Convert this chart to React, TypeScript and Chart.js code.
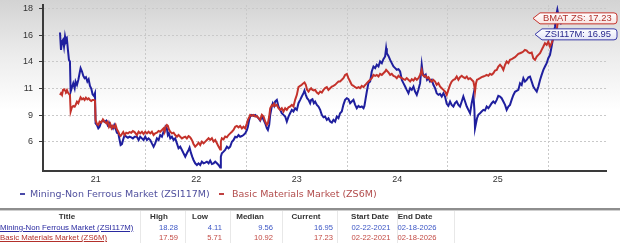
import React, { useEffect, useRef } from 'react';
import { Chart, registerables } from 'chart.js';

Chart.register(...registerables);

// decimal years (Feb 22 2021 .. Feb 18 2026)
const dates: number[] = [
  2021.145, 2021.155, 2021.165, 2021.175, 2021.185, 2021.195, 2021.204, 2021.214, 2021.224, 2021.234,
  2021.244, 2021.251, 2021.264, 2021.277, 2021.291, 2021.300, 2021.314, 2021.327, 2021.340, 2021.350,
  2021.364, 2021.377, 2021.390, 2021.403, 2021.417, 2021.430, 2021.443, 2021.456, 2021.469, 2021.483,
  2021.493, 2021.499, 2021.513, 2021.526, 2021.539, 2021.556, 2021.572, 2021.589, 2021.605, 2021.619,
  2021.632, 2021.645, 2021.658, 2021.672, 2021.685, 2021.698, 2021.711, 2021.725, 2021.738, 2021.748,
  2021.761, 2021.774, 2021.788, 2021.804, 2021.821, 2021.837, 2021.854, 2021.870, 2021.887,
  2021.910, 2021.927, 2021.943, 2021.960, 2021.976, 2021.993, 2022.010, 2022.026, 2022.043, 2022.059,
  2022.076, 2022.092, 2022.109, 2022.126, 2022.142, 2022.159, 2022.175, 2022.185, 2022.195, 2022.208,
  2022.218, 2022.228, 2022.242, 2022.258, 2022.275, 2022.291, 2022.308, 2022.324, 2022.341, 2022.358,
  2022.374, 2022.391, 2022.407, 2022.424, 2022.434, 2022.447, 2022.460, 2022.473, 2022.490, 2022.507,
  2022.523, 2022.540, 2022.556, 2022.573, 2022.590, 2022.606, 2022.623, 2022.639, 2022.656, 2022.673,
  2022.689, 2022.706, 2022.722, 2022.739, 2022.745, 2022.755, 2022.772, 2022.788, 2022.805, 2022.821,
  2022.838, 2022.855, 2022.871, 2022.888, 2022.904, 2022.921, 2022.937, 2022.954, 2022.970, 2022.987,
  2023.004, 2023.014, 2023.027, 2023.037, 2023.053, 2023.070, 2023.087, 2023.103, 2023.120, 2023.136,
  2023.153, 2023.170, 2023.186, 2023.203, 2023.213, 2023.226, 2023.236, 2023.252, 2023.262, 2023.275,
  2023.285, 2023.302, 2023.318, 2023.335, 2023.351, 2023.368, 2023.385, 2023.401, 2023.418, 2023.434,
  2023.451, 2023.467, 2023.484, 2023.501, 2023.517, 2023.534, 2023.550, 2023.567, 2023.577, 2023.590,
  2023.603, 2023.617, 2023.633, 2023.643, 2023.656, 2023.670, 2023.683, 2023.700, 2023.716, 2023.733,
  2023.749, 2023.766,
  2023.782, 2023.799, 2023.815, 2023.832, 2023.849, 2023.865, 2023.882, 2023.898, 2023.915, 2023.931,
  2023.948, 2023.964, 2023.981, 2023.998, 2024.014, 2024.031, 2024.047, 2024.064, 2024.081, 2024.097,
  2024.114, 2024.130, 2024.147, 2024.164, 2024.173, 2024.183, 2024.197, 2024.213, 2024.230, 2024.246,
  2024.263, 2024.280, 2024.296, 2024.313, 2024.329, 2024.346, 2024.362, 2024.379, 2024.389, 2024.396,
  2024.412, 2024.429, 2024.445, 2024.462, 2024.479, 2024.495, 2024.512, 2024.528, 2024.545, 2024.561,
  2024.578, 2024.594, 2024.611, 2024.628, 2024.644, 2024.661, 2024.677, 2024.694, 2024.710,
  2024.727, 2024.743, 2024.753, 2024.770, 2024.783, 2024.796, 2024.810, 2024.826, 2024.843, 2024.859,
  2024.876, 2024.892, 2024.909, 2024.925, 2024.942, 2024.959, 2024.975, 2024.992, 2025.008, 2025.025,
  2025.041, 2025.058, 2025.074, 2025.091, 2025.108, 2025.124, 2025.141, 2025.157, 2025.174, 2025.191,
  2025.207, 2025.224, 2025.240, 2025.257, 2025.267, 2025.273, 2025.283, 2025.293, 2025.306, 2025.323,
  2025.339, 2025.356, 2025.372, 2025.389, 2025.406, 2025.422, 2025.439, 2025.455, 2025.472, 2025.489,
  2025.505, 2025.522, 2025.538, 2025.555, 2025.572, 2025.588, 2025.605, 2025.621, 2025.638, 2025.654,
  2025.671,
  2025.704, 2025.721, 2025.737, 2025.754, 2025.770, 2025.787, 2025.804, 2025.820, 2025.837, 2025.853,
  2025.870, 2025.887, 2025.903, 2025.920, 2025.936, 2025.953, 2025.969, 2025.986, 2026.002, 2026.019,
  2026.035, 2026.052, 2026.069, 2026.085, 2026.092, 2026.110, 2026.131,
];

const miningValues: number[] = [
  16.23, 14.67, 15.42, 15.57, 14.97, 15.87, 15.42, 15.63, 14.67, 13.77,
  13.62, 10.92, 11.31, 11.67, 11.22, 11.82, 11.52, 11.97, 12.57, 13.02,
  12.72, 12.33, 12.12, 12.21, 11.82, 12.03, 11.43, 11.19, 10.68, 10.53,
  10.77, 8.07, 7.92, 7.62, 7.77, 8.22, 8.31, 8.19, 8.31, 7.92,
  8.13, 7.77, 7.84, 7.62, 7.92, 7.62, 7.23, 7.17, 6.57, 6.12,
  6.21, 6.63, 7.02, 6.87, 6.78, 6.87, 6.81, 6.72, 6.87,
  6.87, 6.57, 6.87, 6.72, 6.57, 6.87, 6.57, 6.72, 6.57, 6.27,
  5.97, 6.27, 6.72, 6.57, 7.02, 6.87, 7.32, 7.32, 7.77, 7.62,
  7.02, 7.17, 6.72, 6.87, 6.57, 6.72, 6.27, 5.83, 5.97, 5.68,
  5.38, 5.08, 5.38, 5.68, 5.89, 5.44, 5.08, 4.78, 4.48, 4.33,
  4.48, 4.33, 4.63, 4.48, 4.54, 4.63, 4.48, 4.72, 4.42, 4.48,
  4.63, 4.48, 4.33, 4.11, 5.08, 5.38, 5.53, 5.68, 5.98, 5.83,
  5.98, 6.42, 6.57, 6.87, 6.81, 7.02, 6.87, 6.93, 7.02, 7.17,
  7.47, 7.77, 8.38, 8.68, 8.83, 8.74, 8.83, 8.68, 8.53, 8.32,
  8.68, 8.38, 8.08, 7.63, 7.48, 7.93, 8.83, 9.58, 9.88, 9.64,
  10.03, 10.18, 9.58, 9.28, 8.98, 8.83, 8.68, 8.23, 8.68, 8.98,
  9.28, 9.13, 9.43, 9.28, 9.88, 10.18, 10.48, 10.78, 11.02, 10.63,
  10.33, 10.18, 9.88, 10.18, 10.24, 9.88, 10.03, 9.73, 9.58, 9.28,
  8.83, 8.62,
  8.68, 8.38, 8.53, 8.23, 8.14, 8.38, 8.23, 8.68, 8.53, 8.98,
  9.13, 9.73, 10.18, 10.33, 10.24, 9.88, 10.03, 10.18, 9.73, 9.43,
  9.64, 9.52, 9.58, 9.43, 9.64, 10.18, 10.93, 11.68, 11.83, 12.73,
  13.18, 13.03, 13.33, 13.18, 13.63, 13.48, 13.84, 14.08, 14.82, 14.37,
  14.13, 13.77, 13.48, 13.18, 13.03, 12.88, 12.94, 12.73, 11.98, 11.68,
  11.38, 11.08, 10.78, 11.23, 11.08, 11.38, 10.93, 10.63, 11.08,
  11.68, 13.33, 12.58, 12.28, 12.43, 11.98, 12.13, 11.83, 11.98, 11.53,
  11.23, 10.78, 10.63, 10.72, 10.48, 10.78, 10.48, 9.82, 9.64, 10.03,
  9.73, 9.58, 9.88, 10.03, 9.73, 9.58, 10.03, 10.48, 10.03, 9.58,
  9.28, 8.98, 9.88, 10.63, 9.28, 7.63, 8.08, 8.53, 8.83, 8.98,
  9.13, 9.28, 9.22, 9.58, 9.43, 9.64, 9.88, 10.03, 9.88, 10.18,
  10.54, 10.48, 10.33, 10.03, 9.73, 9.28, 9.58, 9.73, 10.2, 10.6,
  10.9,
  11.07, 11.67, 11.52, 12.12, 11.82, 11.97, 12.21, 12.27, 11.82, 11.37,
  11.13, 10.92, 11.37, 11.97, 12.42, 12.87, 13.17, 13.47, 13.92, 14.22,
  14.97, 15.87, 16.77, 17.97, 18.28, 17.4, 16.95,
];

const basicValues: number[] = [
  10.62, 10.77, 10.62, 11.07, 11.13, 11.01, 10.92, 11.07, 10.83, 10.71,
  10.62, 9.12, 9.51, 9.63, 9.57, 9.72, 10.02, 9.87, 10.17, 10.41,
  10.23, 10.32, 10.17, 10.38, 10.23, 10.32, 10.17, 10.08, 10.17, 10.17,
  10.11, 8.37, 8.01, 7.92, 8.22, 8.13, 8.43, 8.22, 8.07, 8.22,
  7.77, 8.01, 7.62, 7.84, 7.69, 7.92, 7.53, 7.32, 7.02, 6.93,
  7.11, 7.29, 7.02, 7.23, 7.17, 7.29, 7.23, 7.38, 7.29,
  7.02, 7.32, 7.17, 7.32, 7.11, 7.32, 7.17, 7.32, 7.17, 7.32,
  7.02, 7.17, 7.23, 7.38, 7.32, 7.47, 7.62, 7.32, 7.77, 7.92,
  7.84, 7.53, 7.32, 7.17, 7.23, 7.02, 6.87, 7.02, 6.87, 6.72,
  6.81, 6.87, 6.72, 6.93, 6.87, 6.72, 6.52, 6.22, 5.98, 6.13,
  6.34, 6.13, 6.43, 6.28, 6.43, 6.58, 6.73, 6.58, 6.73, 6.43,
  6.58, 6.28, 5.98, 5.71, 6.43, 6.73, 6.64, 6.88, 6.82, 7.02,
  7.17, 7.32, 7.47, 7.77, 7.83, 7.71, 7.83, 7.62, 7.77, 7.62,
  8.07, 8.38, 8.62, 8.83, 8.74, 8.83, 8.68, 8.74, 8.53, 8.38,
  8.83, 8.68, 8.23, 7.93, 8.08, 8.68, 9.43, 9.70, 9.64, 9.82,
  9.64, 9.73, 9.43, 9.28, 9.43, 9.13, 9.43, 9.28, 9.52, 9.58,
  9.73, 9.58, 10.18, 10.63, 11.32, 11.44, 11.53, 11.68, 11.74, 11.53,
  11.08, 10.93, 11.14, 11.23, 11.08, 11.02, 11.08, 10.84, 10.72, 10.93,
  10.84, 11.08,
  11.23, 11.32, 11.08, 11.23, 11.38, 11.44, 11.53, 11.68, 11.83, 11.83,
  11.98, 12.13, 12.42, 12.51, 12.13, 11.83, 11.53, 11.44, 11.32, 11.23,
  11.32, 11.23, 11.44, 11.32, 11.44, 11.53, 11.68, 11.83, 11.98, 12.13,
  12.42, 12.34, 12.42, 12.28, 12.51, 12.42, 12.57, 12.72, 12.87, 12.81,
  12.64, 12.43, 12.52, 12.34, 12.28, 12.13, 12.34, 12.22, 12.13, 12.04,
  11.98, 12.13, 11.98, 11.83, 12.04, 11.92, 12.13, 11.98, 12.13,
  12.42, 12.87, 12.42, 12.28, 12.34, 12.13, 12.22, 11.98, 11.83, 11.98,
  11.83, 11.53, 11.68, 11.38, 11.23, 11.08, 10.93, 10.63, 11.08, 11.53,
  11.83, 11.98, 12.04, 12.28, 11.98, 12.22, 12.34, 12.22, 12.13, 12.28,
  12.04, 12.13, 11.98, 11.83, 11.38, 10.93, 11.68, 11.98, 12.04, 12.13,
  12.22, 12.28, 12.34, 12.43, 12.34, 12.52, 12.43, 12.57, 12.81, 12.87,
  13.17, 13.33, 13.17, 12.87, 13.33, 13.63, 13.48, 13.77, 13.83, 13.93,
  14.02,
  14.31, 14.37, 14.43, 14.52, 14.67, 14.61, 14.43, 14.37, 14.43, 13.92,
  13.77, 14.07, 14.22, 14.37, 14.67, 14.97, 15.27, 15.12, 15.42, 14.97,
  15.27, 15.72, 16.02, 16.32, 16.9, 17.59, 17.23,
];

const yTickValues: number[] = [6.4, 8.8, 11.2, 13.6, 16.0, 18.4];
const xLabelPositions: number[] = [2021.5, 2022.5, 2023.5, 2024.5, 2025.5];
const yearBoundaries: number[] = [2022, 2023, 2024, 2025, 2026];

const seriesNames = ['Mining-Non Ferrous Market (ZSI117M)', 'Basic Materials Market (ZS6M)'];
const flagLabels = ['BMAT ZS: 17.23', 'ZSI117M: 16.95'];
const flagValues = [17.23, 16.95];

const tableHeaders = ['Title', 'High', 'Low', 'Median', 'Current', 'Start Date', 'End Date'];
const miningRow = ['18.28', '4.11', '9.56', '16.95', '02-22-2021', '02-18-2026'];
const basicRow = ['17.59', '5.71', '10.92', '17.23', '02-22-2021', '02-18-2026'];

const BLUE = '#1f1f9e';
const RED = '#c4322b';
const SANS = '"Liberation Sans", Arial, sans-serif';

const flagPlugin = {
  id: 'flags',
  afterDraw(chart: any) {
    const ctx = chart.ctx;
    const ys = chart.scales.y;
    const items = [
      { text: flagLabels[0], value: flagValues[0], stroke: RED, text_c: '#b0302a', tint: '#f9e3e1' },
      { text: flagLabels[1], value: flagValues[1], stroke: '#3a3aa6', text_c: '#28288c', tint: '#e3e5f7' },
    ];
    const h = 11;
    let prevBottom = -1e9;
    items.forEach((it, i) => {
      let cy = ys.getPixelForValue(it.value) - 3;
      if (cy - h / 2 < prevBottom + 5) cy = prevBottom + 5 + h / 2;
      const top = cy - h / 2;
      const bottom = cy + h / 2;
      prevBottom = bottom;
      const tip = 533 + i * 2;
      const left = tip + 7;
      const right = 617;
      const r = 3;
      ctx.save();
      ctx.beginPath();
      ctx.moveTo(tip, cy);
      ctx.lineTo(left, top);
      ctx.lineTo(right - r, top);
      ctx.quadraticCurveTo(right, top, right, top + r);
      ctx.lineTo(right, bottom - r);
      ctx.quadraticCurveTo(right, bottom, right - r, bottom);
      ctx.lineTo(left, bottom);
      ctx.closePath();
      const g = ctx.createLinearGradient(0, top, 0, bottom);
      g.addColorStop(0, '#ffffff');
      g.addColorStop(1, it.tint);
      ctx.fillStyle = g;
      ctx.fill();
      ctx.lineWidth = 1;
      ctx.strokeStyle = it.stroke;
      ctx.stroke();
      ctx.fillStyle = it.text_c;
      ctx.font = '9.4px ' + SANS;
      ctx.textBaseline = 'middle';
      ctx.textAlign = 'left';
      ctx.fillText(it.text, left + 3, cy + 0.5);
      ctx.restore();
    });
  },
};

function ChartCanvas() {
  const ref = useRef<HTMLCanvasElement | null>(null);
  useEffect(() => {
    if (!ref.current) return;
    const chart = new Chart(ref.current, {
      type: 'line',
      data: {
        datasets: [
          {
            label: seriesNames[0],
            data: dates.map((d, i) => ({ x: d, y: miningValues[i] })),
            borderColor: BLUE,
            borderWidth: 2,
            pointRadius: 0,
            tension: 0,
            order: 2,
          },
          {
            label: seriesNames[1],
            data: dates.map((d, i) => ({ x: d, y: basicValues[i] })),
            borderColor: RED,
            borderWidth: 2,
            pointRadius: 0,
            tension: 0,
            order: 1,
          },
        ],
      },
      plugins: [flagPlugin],
      options: {
        animation: false,
        responsive: false,
        maintainAspectRatio: false,
        events: [],
        layout: { padding: { top: 5, right: 14, left: 0, bottom: 0 } },
        plugins: { legend: { display: false }, tooltip: { enabled: false }, title: { display: false } },
        scales: {
          x: {
            type: 'linear',
            min: 2020.976,
            max: 2026.576,
            afterBuildTicks: (s: any) => {
              s.ticks = [...xLabelPositions, ...yearBoundaries].sort((a, b) => a - b).map((v) => ({ value: v }));
            },
            afterFit: (s: any) => {
              s.height = 19;
              s.paddingLeft = 0;
              s.paddingRight = 0;
            },
            ticks: {
              autoSkip: false,
              maxRotation: 0,
              padding: 3,
              color: '#333',
              font: { size: 9, family: SANS },
              callback: (v: any) => (xLabelPositions.includes(Number(v)) ? String(Math.floor(Number(v)) % 100) : ''),
            },
            grid: {
              drawTicks: false,
              color: (c: any) => (c.tick && Number.isInteger(c.tick.value) ? '#c9c9c9' : 'rgba(0,0,0,0)'),
              lineWidth: 1,
            },
            border: { display: true, color: '#3a3a3a', width: 2, dash: [2, 2] },
          },
          y: {
            type: 'linear',
            min: 3.79,
            max: 18.7,
            afterBuildTicks: (s: any) => {
              s.ticks = yTickValues.map((v) => ({ value: v }));
            },
            afterFit: (s: any) => {
              s.width = 43;
              s.paddingTop = 0;
              s.paddingBottom = 0;
            },
            ticks: {
              padding: 6,
              color: '#333',
              font: { size: 9, family: SANS },
              callback: (v: any) => String(Math.round(Number(v))),
            },
            grid: {
              color: '#c9c9c9',
              tickColor: '#3a3a3a',
              tickLength: 4,
              lineWidth: 1,
            },
            border: { display: true, color: '#3a3a3a', width: 2, dash: [2, 2] },
          },
        },
      } as any,
    });
    return () => chart.destroy();
  }, []);
  return (
    <canvas
      ref={ref}
      width={620}
      height={190}
      style={{ position: 'absolute', left: 0, top: 0, width: 620, height: 190 }}
    />
  );
}

const cell = (left: number, top: number, width: number, align: 'left' | 'right' | 'center', style: any, text: string, key: string) => (
  <div
    key={key}
    style={{
      position: 'absolute',
      left,
      top,
      width,
      height: 10,
      lineHeight: '10px',
      textAlign: align,
      whiteSpace: 'nowrap',
      ...style,
    }}
  >
    {text}
  </div>
);

export default function App() {
  const cols = [
    { l: 0, w: 134, va: 'left' as const, hc: 67 },
    { l: 140, w: 38, va: 'right' as const, hc: 159 },
    { l: 185, w: 37, va: 'right' as const, hc: 200 },
    { l: 230, w: 43, va: 'right' as const, hc: 250 },
    { l: 282, w: 51, va: 'right' as const, hc: 306 },
    { l: 340, w: 62, va: 'center' as const, hc: 370 },
    { l: 386, w: 62, va: 'center' as const, hc: 415 },
  ];
  const seps = [140, 185, 230, 282, 337, 397, 454];
  const headerStyle = { fontFamily: SANS, fontSize: 8, fontWeight: 'bold', color: '#333' };
  const rows = [
    { name: seriesNames[0], vals: miningRow, link: '#2a2aa0', num: '#3b55c4' },
    { name: seriesNames[1], vals: basicRow, link: '#b3302b', num: '#c24a44' },
  ];
  return (
    <div
      style={{
        position: 'absolute',
        left: 0,
        top: 0,
        width: 620,
        height: 249,
        overflow: 'hidden',
        background: '#fff',
      }}
    >
      <div
        style={{
          position: 'absolute',
          left: 0,
          top: 0,
          width: 620,
          height: 175,
          background: 'linear-gradient(to bottom, #d3d3d3 0px, #ececec 55px, #ffffff 110px)',
        }}
      />
      <ChartCanvas />
      {/* legend */}
      <div style={{ position: 'absolute', left: 20, top: 193, width: 5, height: 2, background: '#4a4aa8' }} />
      <div
        style={{
          position: 'absolute',
          left: 30,
          top: 188,
          fontFamily: '"DejaVu Sans", Verdana, sans-serif',
          fontSize: 9.5,
          lineHeight: '12px',
          color: '#50509e',
          whiteSpace: 'nowrap',
        }}
      >
        {seriesNames[0]}
      </div>
      <div style={{ position: 'absolute', left: 219, top: 193, width: 5, height: 2, background: '#c04040' }} />
      <div
        style={{
          position: 'absolute',
          left: 232,
          top: 188,
          fontFamily: '"DejaVu Sans", Verdana, sans-serif',
          fontSize: 9.5,
          lineHeight: '12px',
          color: '#b24c4c',
          whiteSpace: 'nowrap',
        }}
      >
        {seriesNames[1]}
      </div>
      {/* table */}
      <div style={{ position: 'absolute', left: 0, top: 208, width: 620, height: 2, background: '#8e8e8e' }} />
      <div style={{ position: 'absolute', left: 0, top: 210, width: 620, height: 1, background: '#cfcfcf' }} />
      {seps.map((x, i) => (
        <div key={'s' + i} style={{ position: 'absolute', left: x, top: 211, width: 1, height: 32, background: '#e8e8e8' }} />
      ))}
      {tableHeaders.map((h, i) => cell(cols[i].hc - 40, 212, 80, 'center', headerStyle, h, 'h' + i))}
      {rows.map((r, ri) => {
        const top = 223 + ri * 10;
        const out = [
          cell(0, top, 150, 'left', { fontFamily: SANS, fontSize: 7.8, color: r.link, textDecoration: 'underline' }, r.name, 'n' + ri),
        ];
        r.vals.forEach((v, vi) => {
          const c = cols[vi + 1];
          out.push(cell(c.l, top, c.w, c.va, { fontFamily: SANS, fontSize: 7.6, color: r.num }, v, 'v' + ri + '_' + vi));
        });
        return out;
      })}
    </div>
  );
}
